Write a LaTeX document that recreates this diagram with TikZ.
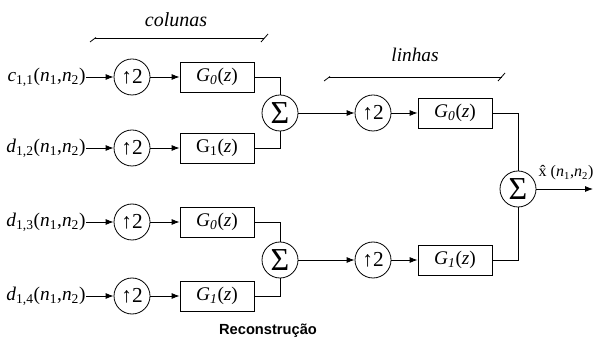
\documentclass[tikz,border=0pt]{standalone}
\usepackage{fontspec}
\setmainfont{Liberation Serif}
\setsansfont{Liberation Sans}
\usetikzlibrary{arrows.meta}

\begin{document}
\begin{tikzpicture}[
    x=0.75pt, y=-0.75pt,
    line width=0.6pt,
    font=\fontsize{14.5}{16}\selectfont,
    updot/.style={circle, draw, inner sep=0pt, minimum size=27pt, font=\fontsize{16}{18}\selectfont},
    sumdot/.style={circle, draw, inner sep=0pt, minimum size=27pt, font=\fontsize{24}{26}\selectfont},
    filt/.style={rectangle, draw, inner sep=0pt, minimum width=55.5pt, minimum height=22.5pt},
    sig/.style={-{Latex[length=6pt,width=4.5pt]}},
]
    \useasboundingbox (0,0) rectangle (605,341);

    % Column stage: inputs, upsamplers and filters
    \foreach \r/\y/\inlab/\glab in {
        1/77/{\textit{c}\textsubscript{1,1}}/{\textit{G}\textsubscript{\textit{0}}},
        2/148/{\textit{d}\textsubscript{1,2}}/{G\textsubscript{1}},
        3/222/{\textit{d}\textsubscript{1,3}}/{\textit{G}\textsubscript{\textit{0}}},
        4/296/{\textit{d}\textsubscript{1,4}}/{\textit{G}\textsubscript{\textit{1}}}}{
      \node[anchor=east, inner sep=0pt] (in\r) at (86,\y) {\inlab(\textit{n}\textsubscript{1},\textit{n}\textsubscript{2})};
      \node[updot] (up\r) at (132,\y) {↑2};
      \node[filt] (g\r) at (217,\y) {\glab(\textit{z})};
      \draw[sig] (in\r) -- (up\r);
      \draw[sig] (up\r) -- (g\r);
    }

    % Column sums
    \node[sumdot] (s12) at (280,113) {Σ};
    \node[sumdot] (s34) at (280,260) {Σ};
    \draw (g1.east) -| (s12.north);
    \draw (g2.east) -| (s12.south);
    \draw (g3.east) -| (s34.north);
    \draw (g4.east) -| (s34.south);

    % Row stage
    \node[updot] (upa) at (373,113) {↑2};
    \node[filt] (ga) at (455,113) {\textit{G}\textsubscript{\textit{0}}(\textit{z})};
    \node[updot] (upb) at (373,260) {↑2};
    \node[filt] (gb) at (455,260) {\textit{G}\textsubscript{\textit{1}}(\textit{z})};
    \draw[sig] (s12) -- (upa);
    \draw[sig] (upa) -- (ga);
    \draw[sig] (s34) -- (upb);
    \draw[sig] (upb) -- (gb);

    % Output sum
    \node[sumdot] (sout) at (518,189) {Σ};
    \draw (ga.east) -| (sout.north);
    \draw (gb.east) -| (sout.south);
    \coordinate (out) at (593,189);
    \draw[sig] (sout) -- (out);
    \node[font=\fontsize{12}{14}\selectfont] (xhat) at (566,173) {\^{x} (\textit{n}\textsubscript{1},\textit{n}\textsubscript{2})};

    % Brackets
    \node[font=\fontsize{15}{17}\selectfont\itshape] (cols) at (176,20) {colunas};
    \draw (95,38) -- (264,38);
    \draw (90,42) -- (96,37.5);
    \draw (261,42) -- (268,34);
    \node[font=\fontsize{14.5}{16}\selectfont\itshape] (rows) at (415,55) {linhas};
    \draw (329,77) -- (502,77);
    \draw (324,81) -- (330,76.5);
    \draw (498,81) -- (505,73);

    % Caption
    \node[font=\fontsize{11}{13}\selectfont\sffamily\bfseries] (title) at (268,331) {Reconstrução};
\end{tikzpicture}
\end{document}
